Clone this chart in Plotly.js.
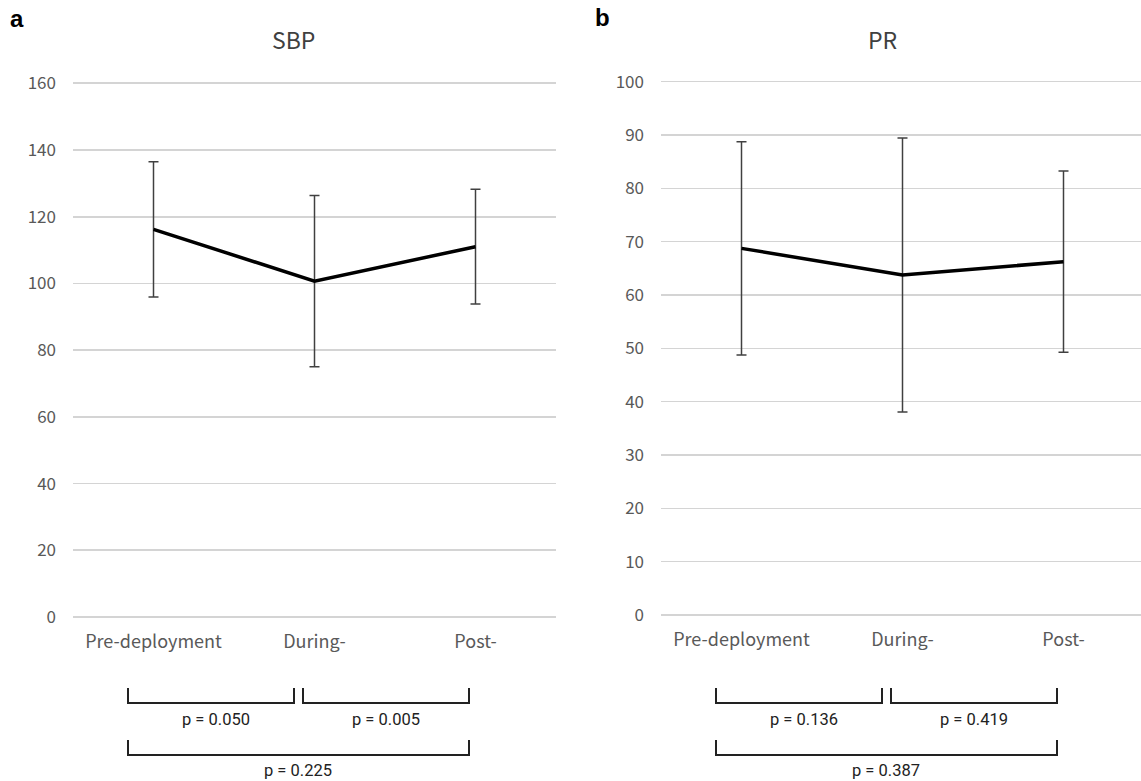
<!DOCTYPE html>
<html>
<head>
<meta charset="utf-8">
<script src="https://cdn.plot.ly/plotly-3.0.1.min.js"></script>
<style>html,body{margin:0;padding:0;background:#fff;}#chart{width:1141px;height:781px;}</style>
</head>
<body>
<div id="chart"></div>
<script>
// ---- data ----
const categories = ['Pre-deployment', 'During-', 'Post-'];
const sbpMean = [116.2, 100.7, 111.0];
const sbpSD = [20.3, 25.7, 17.2];
const prMean = [68.75, 63.75, 66.25];
const prSD = [20.0, 25.7, 17.0];
const sbpTicks = [0, 20, 40, 60, 80, 100, 120, 140, 160];
const prTicks = [0, 10, 20, 30, 40, 50, 60, 70, 80, 90, 100];
const sbpP = ['p = 0.050', 'p = 0.005', 'p = 0.225'];
const prP = ['p = 0.136', 'p = 0.419', 'p = 0.387'];

const W = 1141, H = 781;
const px = x => x / W;
const py = y => 1 - y / H;

const tickFont = {family: '"Noto Sans CJK JP", "Noto Sans", sans-serif', size: 17, color: '#595959'};
const xFont = {family: '"Noto Sans CJK JP", "Noto Sans", sans-serif', size: 18, color: '#595959'};
const pFont = {family: 'Roboto, Arial, sans-serif', size: 16.5, color: '#222'};

function trace(mean, sd, xa, ya) {
  return {
    type: 'scatter', mode: 'lines', x: categories, y: mean, xaxis: xa, yaxis: ya,
    line: {color: '#000', width: 3.5},
    error_y: {type: 'data', array: sd, symmetric: true, color: '#404040', thickness: 1.5, width: 5},
    hoverinfo: 'skip', showlegend: false
  };
}

const data = [trace(sbpMean, sbpSD, 'x', 'y'), trace(prMean, prSD, 'x2', 'y2')];

function yax(range, ticks, domain, anchor) {
  return {
    range: range, tickvals: ticks, domain: domain, anchor: anchor,
    showgrid: true, gridcolor: '#d4d4d4', gridwidth: 1.6,
    zeroline: false, showline: false, ticks: '', tickfont: tickFont,
    ticklabelstandoff: 16, fixedrange: true
  };
}
function xax(range, domain, anchor) {
  return {
    type: 'category', categoryarray: categories, range: range, domain: domain, anchor: anchor,
    showgrid: false, zeroline: false, showline: false, ticks: '', tickfont: xFont,
    ticklabelstandoff: 10, fixedrange: true
  };
}

// brackets (pixel layout)
const shapes = [];
const annotations = [];
function bracket(x0, x1, yTop, yBot) {
  shapes.push({type: 'path', xref: 'paper', yref: 'paper',
    path: `M ${px(x0)} ${py(yTop)} L ${px(x0)} ${py(yBot)} L ${px(x1)} ${py(yBot)} L ${px(x1)} ${py(yTop)}`,
    line: {color: '#222', width: 2}});
}
function label(text, x, y) {
  annotations.push({text: text, xref: 'paper', yref: 'paper', x: px(x), y: py(y),
    xanchor: 'center', yanchor: 'middle', showarrow: false, font: pFont});
}
function panelBrackets(off, pv) {
  bracket(128 + off, 294 + off, 688, 703);
  bracket(303 + off, 469 + off, 688, 703);
  bracket(128 + off, 469 + off, 740, 755);
  label(pv[0], 216 + off, 719);
  label(pv[1], 386 + off, 719);
  label(pv[2], 298 + off, 770);
}
panelBrackets(0, sbpP);
panelBrackets(588, prP);

annotations.push({text: '<b>a</b>', xref: 'paper', yref: 'paper', x: px(8), y: py(19), xanchor: 'left', yanchor: 'middle',
  showarrow: false, font: {family: 'Arial, "Liberation Sans", sans-serif', size: 24, color: '#000'}});
annotations.push({text: '<b>b</b>', xref: 'paper', yref: 'paper', x: px(593), y: py(17), xanchor: 'left', yanchor: 'middle',
  showarrow: false, font: {family: 'Arial, "Liberation Sans", sans-serif', size: 24, color: '#000'}});
annotations.push({text: 'SBP', xref: 'paper', yref: 'paper', x: px(293), y: py(39), xanchor: 'center', yanchor: 'middle',
  showarrow: false, font: {family: '"Noto Sans CJK JP", "Noto Sans", sans-serif', size: 23, color: '#404040'}});
annotations.push({text: 'PR', xref: 'paper', yref: 'paper', x: px(882), y: py(39), xanchor: 'center', yanchor: 'middle',
  showarrow: false, font: {family: '"Noto Sans CJK JP", "Noto Sans", sans-serif', size: 23, color: '#404040'}});

// slightly padded ranges so the 0 and top gridlines are drawn
const sPad = 0.6, pPad = 0.4;
const sScale = (617 - 83.3) / 160, pScale = (615 - 81.7) / 100;

const layout = {
  width: W, height: H,
  margin: {l: 0, r: 0, t: 0, b: 0},
  paper_bgcolor: '#fff', plot_bgcolor: 'rgba(0,0,0,0)',
  showlegend: false,
  xaxis: xax([-0.5, 2.5], [px(73), px(556)], 'y'),
  yaxis: yax([-sPad, 160 + sPad], sbpTicks, [py(617 + sPad * sScale), py(83.3 - sPad * sScale)], 'x'),
  xaxis2: xax([-0.5, -0.5 + 480 / 161], [px(661), 1], 'y2'),
  yaxis2: yax([-pPad, 100 + pPad], prTicks, [py(615 + pPad * pScale), py(81.7 - pPad * pScale)], 'x2'),
  shapes: shapes,
  annotations: annotations
};

Plotly.newPlot('chart', data, layout, {staticPlot: true, displayModeBar: false});
</script>
</body>
</html>
